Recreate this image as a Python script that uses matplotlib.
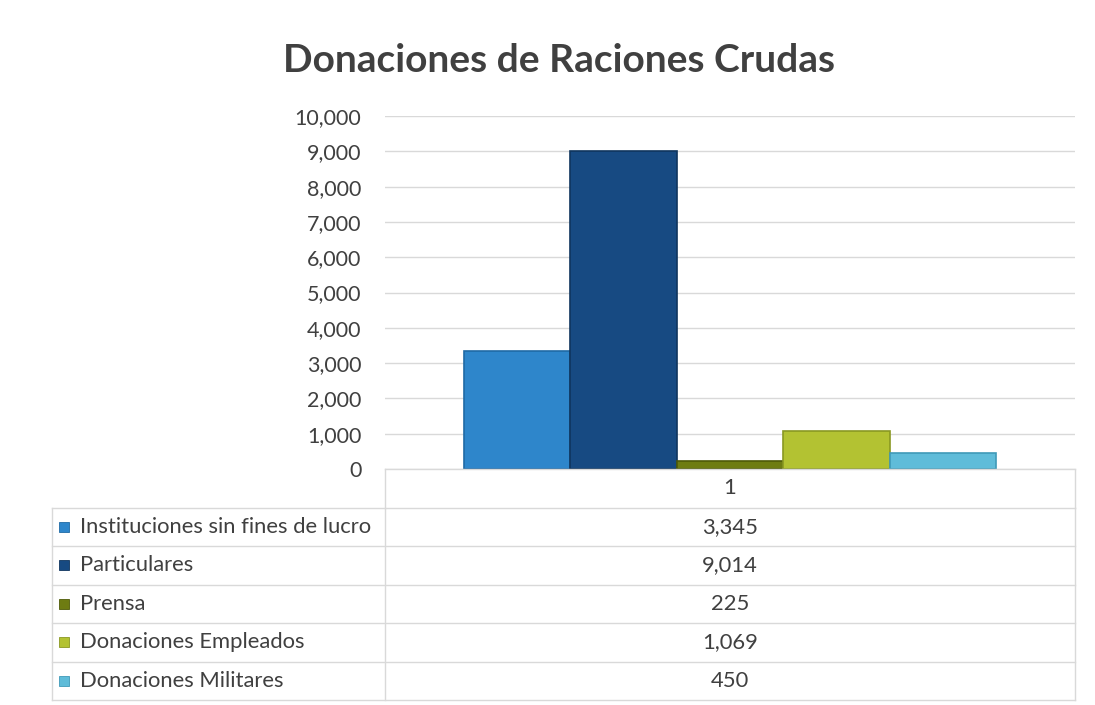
import matplotlib.pyplot as plt
import matplotlib
import numpy as np

matplotlib.rcParams['font.family'] = ['Lato', 'DejaVu Sans']

# datos
series = ["Instituciones sin fines de lucro", "Particulares", "Prensa",
          "Donaciones Empleados", "Donaciones Militares"]
values = [3345, 9014, 225, 1069, 450]
colors = ['#2E86CB', '#174A82', '#6E7C12', '#B3C232', '#5FBCD9']
edge_colors = ['#1F6AA5', '#0F355E', '#4E5A08', '#8A9822', '#3F9AB8']
category = "1"
yticks = list(range(0, 10001, 1000))

W, H = 1095, 705
fig = plt.figure(figsize=(W / 100, H / 100), dpi=100)

# area del grafico
x0, x1 = 385, 1075
y_top, y_zero = 116, 469
ax = fig.add_axes([x0 / W, 1 - y_zero / H, (x1 - x0) / W, (y_zero - y_top) / H])
ax.set_ylim(0, 10000)
ax.set_xlim(-0.5, 0.5)

n = len(values)
group_w = 0.772
bw = group_w / n
pos = -group_w / 2 + bw * (np.arange(n) + 0.5)
ax.bar(pos, values, width=bw, color=colors, edgecolor=edge_colors, linewidth=1.2, zorder=3)

ax.set_yticks(yticks)
ax.set_yticklabels([f"{t:,}" for t in yticks], fontsize=15.5, color='#404040')
ax.tick_params(axis='y', length=0, pad=17)
ax.set_xticks([])
ax.grid(axis='y', color='#D9D9D9', linewidth=1, zorder=0)
for s in ax.spines.values():
    s.set_visible(False)

fig.text(559 / W, 1 - 60 / H, "Donaciones de Raciones Crudas", ha='center', va='center',
         fontsize=28, fontweight='bold', color='#404040')

# tabla de datos
def fx(px):
    return px / W

def fy(py):
    return 1 - py / H

tbl_left = 52
line_c = '#D9D9D9'
row_h = 38.5
rows_top = y_zero + row_h
fs = 15.8
# encabezado
fig.add_artist(plt.Line2D([fx(x0), fx(x1)], [fy(y_zero), fy(y_zero)], color=line_c, lw=1))
fig.add_artist(plt.Line2D([fx(x0), fx(x0)], [fy(y_zero), fy(rows_top)], color=line_c, lw=1))
fig.add_artist(plt.Line2D([fx(x1), fx(x1)], [fy(y_zero), fy(rows_top)], color=line_c, lw=1))
fig.text(fx((x0 + x1) / 2), fy(y_zero + row_h / 2), category, ha='center', va='center',
         fontsize=fs, color='#404040')

for i, (name, val, c) in enumerate(zip(series, values, colors)):
    top = rows_top + i * row_h
    fig.add_artist(plt.Line2D([fx(tbl_left), fx(x1)], [fy(top), fy(top)], color=line_c, lw=1))
    fig.add_artist(plt.Rectangle((fx(59), fy(top + row_h / 2 + 5)), 10 / W, 10 / H,
                                 facecolor=c, edgecolor=edge_colors[i], lw=0.6))
    fig.text(fx(80), fy(top + row_h / 2), name, ha='left', va='center', fontsize=fs,
             color='#404040')
    fig.text(fx((x0 + x1) / 2), fy(top + row_h / 2), f"{val:,}", ha='center', va='center',
             fontsize=fs, color='#404040')

bottom = rows_top + n * row_h
fig.add_artist(plt.Line2D([fx(tbl_left), fx(x1)], [fy(bottom), fy(bottom)], color=line_c, lw=1))
for xv in (tbl_left, x0, x1):
    fig.add_artist(plt.Line2D([fx(xv), fx(xv)], [fy(rows_top), fy(bottom)], color=line_c, lw=1))

fig.savefig('out.png', dpi=100)
